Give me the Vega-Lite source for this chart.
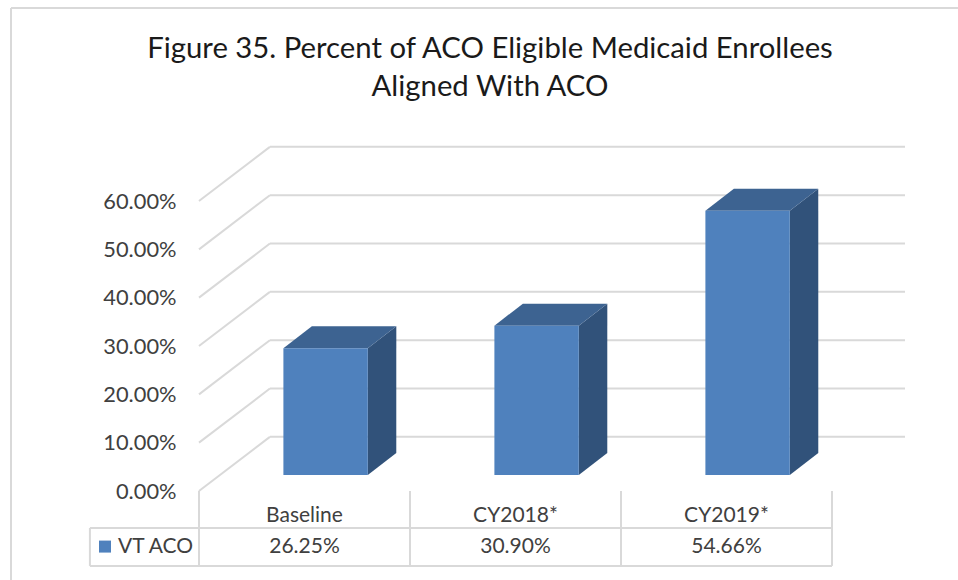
{
"$schema":"https://vega.github.io/schema/vega-lite/v6.json",
"autosize":{"type":"none"},
"padding":{"left":199,"top":128.5,"right":53,"bottom":89},
"width":706,"height":362.5,
"background":"white",
"config":{"view":{"stroke":null},"font":"Lato"},
"title":{"text":["Figure 35. Percent of ACO Eligible Medicaid Enrollees","Aligned With ACO"],"font":"Lato","fontSize":29.3,"fontWeight":"normal","color":"#1a1a1a","lineHeight":38,"anchor":"middle","frame":"group","dx":-62,"offset":-95},
"datasets":{
"bars":[
{"category":"Baseline","series":"VT ACO","value":26.25},
{"category":"CY2018*","series":"VT ACO","value":30.90},
{"category":"CY2019*","series":"VT ACO","value":54.66}],
"ticks":[{"tick":0},{"tick":10},{"tick":20},{"tick":30},{"tick":40},{"tick":50},{"tick":60}]
},
"layer":[
{"data":{"name":"ticks"},
 "transform":[{"calculate":"datum.tick+11.2","as":"back"}],
 "mark":{"type":"rule","color":"#d9d9d9","strokeWidth":2},
 "encoding":{
  "x":{"datum":0,"type":"quantitative","scale":{"domain":[0,3.346],"nice":false,"zero":false},"axis":null},
  "x2":{"datum":0.336},
  "y":{"field":"tick","type":"quantitative","scale":{"domain":[0,75],"nice":false,"zero":false},"axis":{"values":[0,10,20,30,40,50,60],"title":null,"domain":false,"ticks":false,"grid":false,"labelExpr":"format(datum.value,'.2f')+'%'","labelFont":"Lato","labelFontSize":21.8,"labelColor":"#404040","labelPadding":23}},
  "y2":{"field":"back"}}},
{"data":{"name":"ticks"},
 "transform":[{"calculate":"datum.tick+11.2","as":"back"}],
 "mark":{"type":"rule","color":"#d9d9d9","strokeWidth":2},
 "encoding":{
  "x":{"datum":0.336,"type":"quantitative"},
  "x2":{"datum":3.346},
  "y":{"field":"back","type":"quantitative"}}},
{"data":{"name":"bars"},
 "transform":[
  {"calculate":"indexof(['Baseline','CY2018*','CY2019*'],datum.category)","as":"i"},
  {"calculate":"[0,1]","as":"c"},{"flatten":["c"]},
  {"calculate":"datum.i+0.8+datum.c*0.135","as":"sx"},
  {"calculate":"3.31+datum.c*4.55","as":"sy0"},
  {"calculate":"datum.value+3.31+datum.c*4.55","as":"sy1"}],
 "mark":{"type":"area","color":"#31527a","orient":"vertical"},
 "encoding":{
  "x":{"field":"sx","type":"quantitative"},
  "y":{"field":"sy1","type":"quantitative"},
  "y2":{"field":"sy0"},
  "detail":{"field":"category"}}},
{"data":{"name":"bars"},
 "transform":[
  {"calculate":"indexof(['Baseline','CY2018*','CY2019*'],datum.category)","as":"i"},
  {"calculate":"[0,1]","as":"c"},{"flatten":["c"]},
  {"calculate":"datum.i+0.4+datum.c*0.135","as":"tx0"},
  {"calculate":"datum.i+0.8+datum.c*0.135","as":"tx1"},
  {"calculate":"datum.value+3.31+datum.c*4.55","as":"ty"}],
 "mark":{"type":"area","color":"#3d6391","orient":"horizontal"},
 "encoding":{
  "y":{"field":"ty","type":"quantitative"},
  "x":{"field":"tx0","type":"quantitative"},
  "x2":{"field":"tx1"},
  "detail":{"field":"category"}}},
{"data":{"name":"bars"},
 "transform":[
  {"calculate":"indexof(['Baseline','CY2018*','CY2019*'],datum.category)","as":"i"},
  {"calculate":"datum.i+0.4","as":"fx0"},
  {"calculate":"datum.i+0.8","as":"fx1"},
  {"calculate":"datum.value+3.31","as":"fy1"},
  {"calculate":"3.31","as":"fy0"}],
 "mark":{"type":"rect","color":"#4f81bd"},
 "encoding":{
  "x":{"field":"fx0","type":"quantitative"},
  "x2":{"field":"fx1"},
  "y":{"field":"fy1","type":"quantitative"},
  "y2":{"field":"fy0"}}},
{"data":{"values":[{"edge":0},{"edge":1},{"edge":2},{"edge":3}]},
 "mark":{"type":"rule","color":"#d9d9d9","strokeWidth":2},
 "encoding":{"x":{"field":"edge","type":"quantitative"},"y":{"datum":0,"type":"quantitative"},"y2":{"datum":-15.5}}},
{"data":{"values":[{"row":-7.66},{"row":-15.5}]},
 "mark":{"type":"rule","color":"#d9d9d9","strokeWidth":2},
 "encoding":{"y":{"field":"row","type":"quantitative"},"x":{"datum":-0.517,"type":"quantitative"},"x2":{"datum":3}}},
{"data":{"values":[{"edge":-0.517}]},
 "mark":{"type":"rule","color":"#d9d9d9","strokeWidth":2},
 "encoding":{"x":{"field":"edge","type":"quantitative"},"y":{"datum":-7.66,"type":"quantitative"},"y2":{"datum":-15.5}}},
{"data":{"values":[{"edge":-0.891}]},
 "mark":{"type":"rule","color":"#d9d9d9","strokeWidth":2},
 "encoding":{"x":{"field":"edge","type":"quantitative"},"y":{"datum":99.94,"type":"quantitative"},"y2":{"datum":-18.4}}},
{"data":{"values":[{"edge":99.94}]},
 "mark":{"type":"rule","color":"#d9d9d9","strokeWidth":2},
 "encoding":{"y":{"field":"edge","type":"quantitative"},"x":{"datum":-0.891,"type":"quantitative"},"x2":{"datum":3.597}}},
{"data":{"name":"bars"},
 "transform":[
  {"calculate":"indexof(['Baseline','CY2018*','CY2019*'],datum.category)+0.5","as":"mid"}],
 "mark":{"type":"text","font":"Lato","fontSize":21,"color":"#404040","align":"center","baseline":"middle"},
 "encoding":{"x":{"field":"mid","type":"quantitative"},"y":{"datum":-5.2,"type":"quantitative"},"text":{"field":"category"}}},
{"data":{"name":"bars"},
 "transform":[
  {"calculate":"indexof(['Baseline','CY2018*','CY2019*'],datum.category)+0.5","as":"mid"},
  {"calculate":"format(datum.value,'.2f')+'%'","as":"label"}],
 "mark":{"type":"text","font":"Lato","fontSize":21,"color":"#404040","align":"center","baseline":"middle"},
 "encoding":{"x":{"field":"mid","type":"quantitative"},"y":{"datum":-11.6,"type":"quantitative"},"text":{"field":"label"}}},
{"data":{"values":[{"series":"VT ACO"}]},
 "mark":{"type":"point","shape":"square","filled":true,"size":144,"color":"#4f81bd","opacity":1},
 "encoding":{"x":{"datum":-0.4455,"type":"quantitative"},"y":{"datum":-11.5,"type":"quantitative"}}},
{"data":{"values":[{"series":"VT ACO"}]},
 "mark":{"type":"text","font":"Lato","fontSize":21,"color":"#404040","align":"left","baseline":"middle"},
 "encoding":{"x":{"datum":-0.384,"type":"quantitative"},"y":{"datum":-11.6,"type":"quantitative"},"text":{"field":"series"}}}
]
}
